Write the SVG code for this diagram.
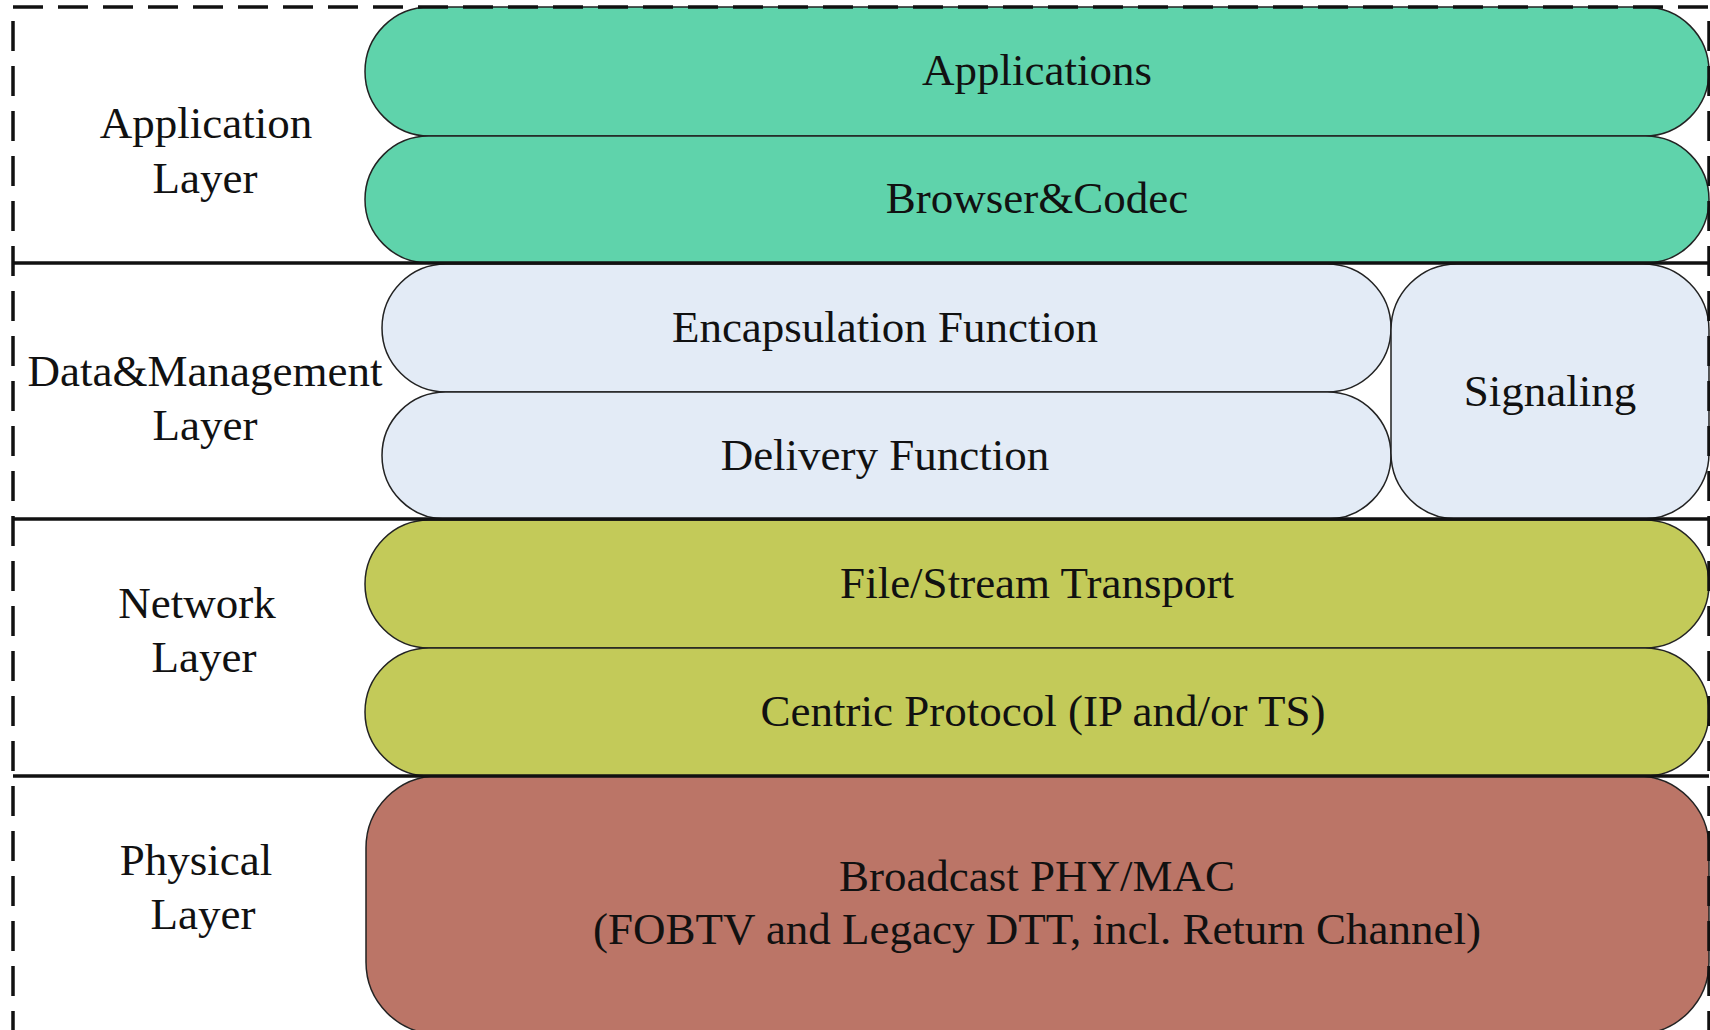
<svg xmlns="http://www.w3.org/2000/svg" width="1710" height="1030" viewBox="0 0 1710 1030">
<style>
.t{font-family:"Liberation Serif","Times New Roman",serif;font-size:45px;fill:#111;text-anchor:middle}
.pill{stroke:#222;stroke-width:1.5}
.g{fill:#5fd3ab}
.b{fill:#e3ebf6}
.o{fill:#c3ca59}
.r{fill:#bb7567}
.sep{stroke:#111;stroke-width:3.5;fill:none}
.border{stroke:#111;stroke-width:3.5;fill:none;stroke-dasharray:30 15}
</style>
<rect width="1710" height="1030" fill="#fff"/>
<g id="labels">
<text class="t" x="206" y="138">Application</text>
<text class="t" x="205" y="193">Layer</text>
<text class="t" x="205" y="386">Data&amp;Management</text>
<text class="t" x="205" y="440">Layer</text>
<text class="t" x="197" y="618">Network</text>
<text class="t" x="204" y="672">Layer</text>
<text class="t" x="196" y="875">Physical</text>
<text class="t" x="203" y="929">Layer</text>
</g>
<g id="applications"><rect class="pill g" x="365" y="7" width="1344" height="129" rx="64.5"/><text class="t" x="1037" y="85">Applications</text></g>
<g id="browser"><rect class="pill g" x="365" y="136" width="1344" height="127" rx="63.5"/><text class="t" x="1037" y="213">Browser&amp;Codec</text></g>
<g id="encapsulation"><rect class="pill b" x="382" y="264" width="1009" height="128" rx="64"/><text class="t" x="885" y="342">Encapsulation Function</text></g>
<g id="delivery"><rect class="pill b" x="382" y="392" width="1009" height="127" rx="63.5"/><text class="t" x="885" y="470">Delivery Function</text></g>
<g id="signaling"><rect class="pill b" x="1391" y="264" width="318" height="255" rx="66"/><text class="t" x="1550" y="406">Signaling</text></g>
<g id="filestream"><rect class="pill o" x="365" y="520" width="1344" height="128" rx="64"/><text class="t" x="1037" y="598">File/Stream Transport</text></g>
<g id="centric"><rect class="pill o" x="365" y="648" width="1344" height="128" rx="64"/><text class="t" x="1043" y="726">Centric Protocol (IP and/or TS)</text></g>
<g id="broadcast"><rect class="pill r" x="366" y="776" width="1343" height="258" rx="72"/><text class="t" x="1037" y="891">Broadcast PHY/MAC</text><text class="t" x="1037" y="944">(FOBTV and Legacy DTT, incl. Return Channel)</text></g>
<g id="connectors">
<line class="sep" x1="13" y1="263" x2="1709" y2="263"/>
<line class="sep" x1="13" y1="519" x2="1709" y2="519"/>
<line class="sep" x1="13" y1="776" x2="1709" y2="776"/>
<rect class="border" x="13" y="7" width="1696" height="1026"/>
</g>
</svg>
